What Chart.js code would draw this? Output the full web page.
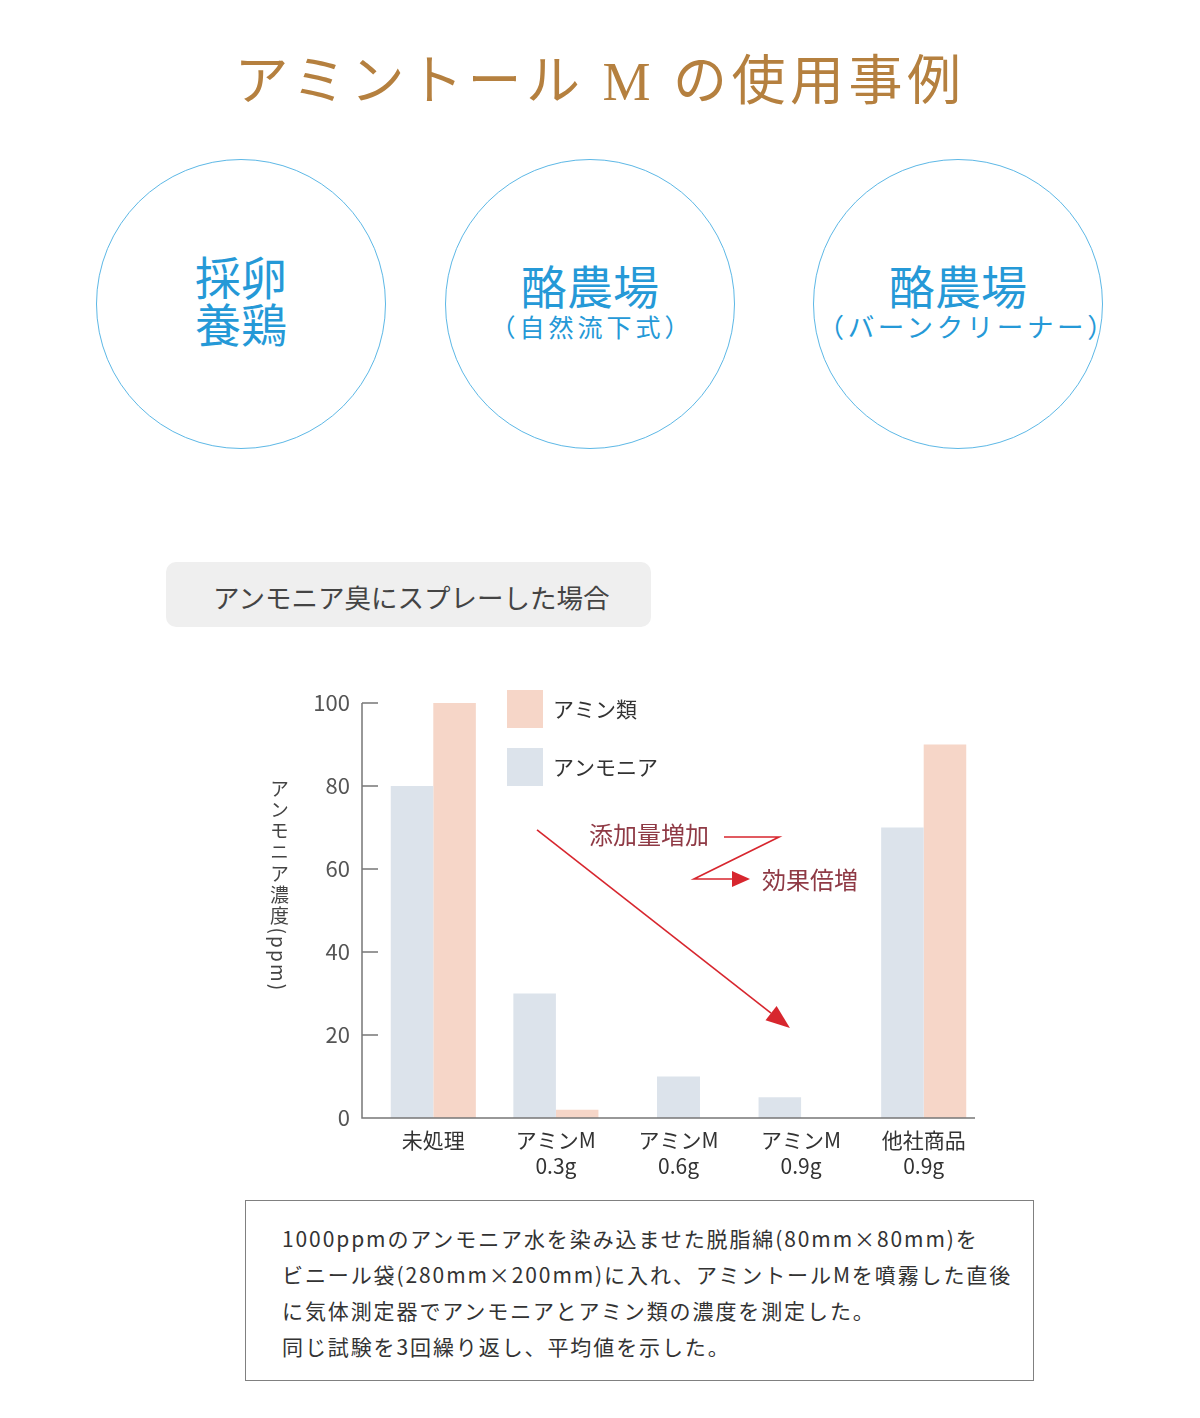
<!DOCTYPE html>
<html lang="ja">
<head>
<meta charset="utf-8">
<title>アミントールMの使用事例</title>
<script src="https://cdn.jsdelivr.net/npm/chart.js@4.4.1/dist/chart.umd.min.js"></script>
<style>
  html, body { margin: 0; padding: 0; background: #fff; }
  body {
    width: 1200px; height: 1418px; position: relative; overflow: hidden;
    font-family: "Noto Sans CJK JP", "Noto Sans", sans-serif;
  }
  .title {
    position: absolute; left: 0; top: 44px; width: 1200px; text-align: center;
    font-family: "Liberation Serif", "Noto Sans CJK JP", serif;
    font-size: 54px; line-height: 76px; color: #b5803f; letter-spacing: 4.5px;
  }
  .circle {
    position: absolute; top: 159px; width: 290px; height: 290px; box-sizing: border-box;
    border: 1.5px solid #5db8e6; border-radius: 50%; color: #2599d7;
  }
  .circle div { position: absolute; left: 0; width: 100%; text-align: center; white-space: nowrap; }
  .big { font-size: 46px; line-height: 47px; }
  .sub { font-size: 25px; line-height: 32px; }
  .tag {
    position: absolute; left: 166px; top: 562px; width: 485px; height: 65px;
    background: #efefef; border-radius: 10px; box-sizing: border-box;
    padding-left: 47px; font-size: 26.5px; line-height: 69px; color: #444;
  }
  #chart { position: absolute; left: 0; top: 640px; }
  .ytitle {
    position: absolute; left: 266px; top: 779px; writing-mode: vertical-rl;
    font-size: 19px; color: #444; letter-spacing: 2.2px;
  }
  .note {
    position: absolute; left: 245px; top: 1200px; width: 789px; height: 181px;
    box-sizing: border-box; border: 1.5px solid #808080;
    padding: 19px 0 0 36px; font-size: 21px; line-height: 36px; color: #333;
    letter-spacing: 1.9px; white-space: nowrap;
  }
</style>
</head>
<body>
<div class="title">アミントール M の使用事例</div>

<div class="circle" style="left:96px">
  <div class="big" style="top:92px">採卵<br>養鶏</div>
</div>
<div class="circle" style="left:445px">
  <div class="big" style="top:101px">酪農場</div>
  <div class="sub" style="top:150px; letter-spacing:4px; text-indent:4px">（自然流下式）</div>
</div>
<div class="circle" style="left:813px">
  <div class="big" style="top:101px">酪農場</div>
  <div class="sub" style="top:150px; font-size:26.5px; letter-spacing:3.6px; text-indent:3.6px">（バーンクリーナー）</div>
</div>

<div class="tag">アンモニア臭にスプレーした場合</div>

<canvas id="chart" width="1200" height="560"></canvas>
<div class="ytitle">アンモニア濃度(ppm)</div>

<div class="note">
  1000ppmのアンモニア水を染み込ませた脱脂綿(80mm×80mm)を<br>
  ビニール袋(280mm×200mm)に入れ、アミントールMを噴霧した直後<br>
  に気体測定器でアンモニアとアミン類の濃度を測定した。<br>
  同じ試験を3回繰り返し、平均値を示した。
</div>

<script>
// 試験区分
const categories = [
  '未処理',
  ['アミンM', '0.3g'],
  ['アミンM', '0.6g'],
  ['アミンM', '0.9g'],
  ['他社商品', '0.9g']
];
// 濃度 (ppm)
const ammonia = [80, 30, 10, 5, 70];
const amines = [100, 2, null, 0, 90];   // 0.6g は棒なし
const yTicks = [0, 20, 40, 60, 80, 100];

const AMMONIA_COLOR = '#dce3eb';
const AMINE_COLOR = '#f6d6c8';
const AXIS_COLOR = '#777';
const TEXT_COLOR = '#333';
const ARROW_COLOR = '#d7262e';
const NOTE_COLOR = '#8f3a45';
const FONT = '"Noto Sans CJK JP", "Noto Sans", sans-serif';

// 軸線・凡例・矢印の描画
const overlay = {
  id: 'overlay',
  afterDatasetsDraw(chart) {
    const { ctx, chartArea, scales: { x, y } } = chart;
    const P = (i, v) => [x.getPixelForValue(i), y.getPixelForValue(v)];
    const axisX = chartArea.left - 10;
    const y0 = y.getPixelForValue(0);

    ctx.save();
    // 軸
    ctx.strokeStyle = AXIS_COLOR;
    ctx.lineWidth = 1.5;
    ctx.beginPath();
    ctx.moveTo(axisX, y.getPixelForValue(yTicks[yTicks.length - 1]));
    ctx.lineTo(axisX, y0);
    ctx.lineTo(chartArea.right - 10, y0);
    yTicks.forEach(t => {
      const py = y.getPixelForValue(t);
      ctx.moveTo(axisX, py);
      ctx.lineTo(axisX + 16, py);
    });
    ctx.stroke();

    // 凡例 (アミン類が上)
    ctx.font = `21px ${FONT}`;
    ctx.textBaseline = 'middle';
    chart.data.datasets.slice().reverse().forEach((ds, i) => {
      const top = chartArea.top - 13 + i * 58;
      ctx.fillStyle = ds.backgroundColor;
      ctx.fillRect(chartArea.left + 135, top, 36, 38);
      ctx.fillStyle = TEXT_COLOR;
      ctx.fillText(ds.label, chartArea.left + 181, top + 19);
    });

    // 矢印
    const arrow = (pts, head, half) => {
      const [ex, ey] = pts[pts.length - 1];
      const [px, py] = pts[pts.length - 2];
      const ang = Math.atan2(ey - py, ex - px);
      const bx = ex - head * Math.cos(ang), by = ey - head * Math.sin(ang);
      ctx.beginPath();
      ctx.moveTo(pts[0][0], pts[0][1]);
      pts.slice(1, -1).forEach(p => ctx.lineTo(p[0], p[1]));
      ctx.lineTo(bx, by);
      ctx.stroke();
      ctx.beginPath();
      ctx.moveTo(ex, ey);
      ctx.lineTo(bx - half * Math.sin(ang), by + half * Math.cos(ang));
      ctx.lineTo(bx + half * Math.sin(ang), by - half * Math.cos(ang));
      ctx.closePath();
      ctx.fill();
    };
    ctx.strokeStyle = ARROW_COLOR;
    ctx.fillStyle = ARROW_COLOR;
    ctx.lineWidth = 1.6;
    arrow([P(0.846, 69.4), P(2.909, 21.7)], 24, 9);
    arrow([P(2.371, 67.7), P(2.82, 67.7), P(2.126, 57.6), P(2.583, 57.6)], 18, 8);

    ctx.fillStyle = NOTE_COLOR;
    ctx.font = `24px ${FONT}`;
    ctx.textBaseline = 'middle';
    ctx.textAlign = 'left';
    let [tx, ty] = P(1.27, 68.2);
    ctx.fillText('添加量増加', tx, ty);
    [tx, ty] = P(2.681, 57.3);
    ctx.fillText('効果倍増', tx, ty);
    ctx.restore();
  }
};

new Chart(document.getElementById('chart'), {
  type: 'bar',
  data: {
    labels: categories,
    datasets: [
      { label: 'アンモニア', data: ammonia, backgroundColor: AMMONIA_COLOR },
      { label: 'アミン類', data: amines, backgroundColor: AMINE_COLOR }
    ]
  },
  options: {
    responsive: false,
    animation: false,
    devicePixelRatio: 1,
    skipNull: true,
    categoryPercentage: 0.694,
    barPercentage: 1,
    maxBarThickness: 43,
    layout: { padding: { left: 300, top: 63, right: 215, bottom: 2 } },
    plugins: { legend: { display: false }, tooltip: { enabled: false } },
    scales: {
      x: {
        grid: { display: false, drawTicks: false },
        border: { display: false },
        ticks: {
          padding: 9,
          color: TEXT_COLOR,
          font: { family: FONT, size: 21, lineHeight: 1.24 },
          maxRotation: 0
        },
        afterFit: s => { s.height = 80; }
      },
      y: {
        min: 0,
        max: 100,
        grid: { display: false, drawTicks: false },
        border: { display: false },
        ticks: {
          stepSize: 20,
          padding: 22,
          color: '#555',
          font: { family: FONT, size: 22 }
        },
        afterFit: s => { s.width = 72; }
      }
    }
  },
  plugins: [overlay]
});
</script>
</body>
</html>
